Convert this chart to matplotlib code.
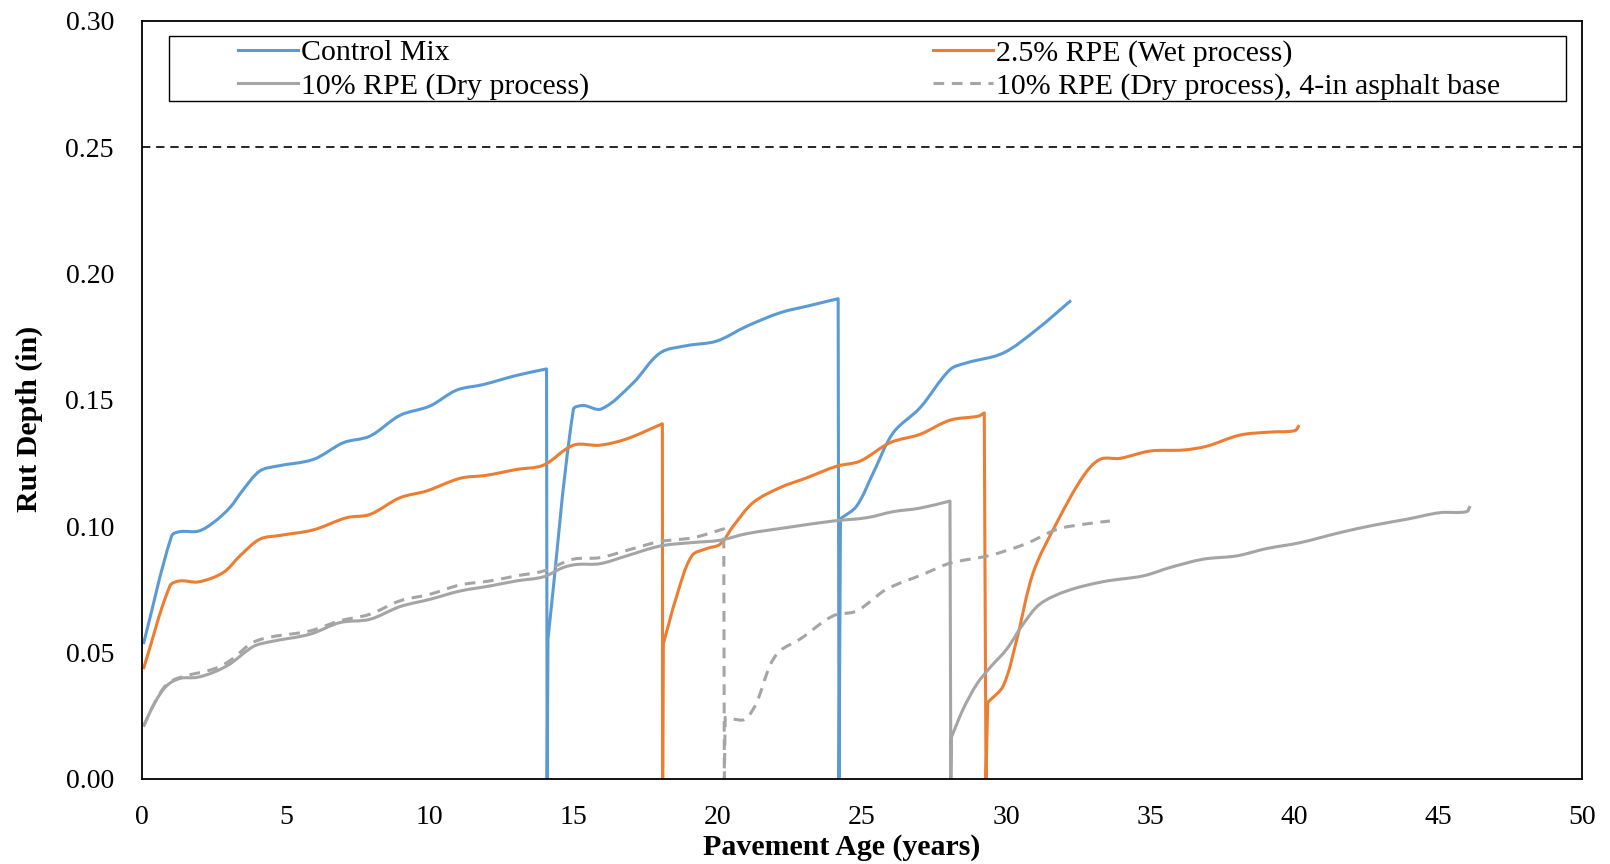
import math
import matplotlib
matplotlib.use("Agg")
import matplotlib.pyplot as plt
from matplotlib.patches import Rectangle, PathPatch
from matplotlib.path import Path
from matplotlib.lines import Line2D

plt.rcParams["font.family"] = ["Liberation Serif", "DejaVu Serif"]

# Rut depth (in) vs pavement age (years); drops to zero mark rehabilitation
control_age = [0.06, 1.04, 1.33, 1.97, 2.49, 3.06, 3.53, 4.1, 4.68, 5.96, 7.0, 7.92, 8.96,
               10.0, 10.93, 11.85, 13.0, 14.05, 14.07, 14.1, 14.98, 15.32, 15.96, 17.06,
               17.99, 18.91, 19.95, 21.0, 22.15, 23.19, 24.17, 24.2, 24.25, 24.81, 25.39,
               26.08, 27.01, 28.05, 28.63, 29.9, 31.06, 32.25]
control_rut = [0.0534, 0.0962, 0.0979, 0.0981, 0.1015, 0.1074, 0.1146, 0.1219, 0.1238,
               0.1265, 0.1331, 0.1357, 0.1439, 0.1476, 0.1539, 0.1561, 0.1597, 0.1623, 0.0,
               0.0553, 0.1462, 0.1478, 0.1465, 0.1568, 0.1686, 0.1715, 0.1733, 0.1792,
               0.1845, 0.1874, 0.1901, 0.0, 0.1030, 0.1080, 0.1212, 0.1370, 0.1469, 0.1620,
               0.1647, 0.1686, 0.1779, 0.1894]

wet_age = [0.06, 0.98, 1.33, 1.97, 2.83, 3.41, 4.1, 4.8, 5.96, 7.11, 7.92, 8.96, 9.89, 11.05,
           11.97, 13.01, 13.94, 14.98, 15.9, 16.83, 18.07, 18.08, 18.1, 18.57, 19.09, 19.61,
           20.07, 20.53, 21.22, 22.15, 23.08, 24.12, 24.93, 25.97, 27.01, 28.05, 29.03, 29.24,
           29.3, 29.36, 29.9, 30.37, 30.94, 31.76, 32.68, 33.26, 33.95, 35.0, 36.15, 36.96,
           38.11, 39.15, 40.02, 40.17]
wet_rut = [0.0435, 0.0764, 0.0784, 0.0780, 0.0817, 0.0883, 0.0949, 0.0964, 0.0986, 0.1034,
           0.1047, 0.1113, 0.1140, 0.1190, 0.1202, 0.1225, 0.1242, 0.1321, 0.1321, 0.1346,
           0.1406, 0.0, 0.0534, 0.0725, 0.0883, 0.0912, 0.0929, 0.1001, 0.1094, 0.1153,
           0.1192, 0.1238, 0.1258, 0.1331, 0.1364, 0.1420, 0.1436, 0.1449, 0.0, 0.0303,
           0.0369, 0.0553, 0.0817, 0.1015, 0.1199, 0.1265, 0.1269, 0.1298, 0.1302, 0.1317,
           0.1361, 0.1373, 0.1379, 0.1400]

dry_age = [0.06, 0.46, 0.87, 1.33, 1.91, 2.49, 3.06, 3.87, 4.45, 5.84, 6.88, 7.92, 8.96, 10.0,
           11.05, 12.09, 13.01, 13.94, 14.63, 15.1, 15.9, 16.83, 17.99, 19.03, 20.07, 21.0,
           22.38, 24.0, 25.16, 26.08, 27.01, 28.05, 28.08, 28.1, 28.51, 28.98, 29.44, 30.02,
           30.59, 31.17, 32.1, 33.37, 34.76, 35.69, 36.84, 38.0, 39.04, 40.19, 41.58, 42.74,
           43.9, 45.05, 45.98, 46.1]
dry_rut = [0.0208, 0.0303, 0.0369, 0.0398, 0.0402, 0.0422, 0.0455, 0.0524, 0.0543, 0.0573,
           0.0619, 0.0632, 0.0682, 0.0711, 0.0744, 0.0764, 0.0784, 0.0800, 0.0837, 0.0849,
           0.0852, 0.0883, 0.0922, 0.0935, 0.0945, 0.0971, 0.0995, 0.1021, 0.1034, 0.1058,
           0.1072, 0.1100, 0.0, 0.0165, 0.0277, 0.0375, 0.0441, 0.0514, 0.0613, 0.0692,
           0.0744, 0.0781, 0.0804, 0.0837, 0.0870, 0.0883, 0.0912, 0.0935, 0.0975, 0.1004,
           0.1028, 0.1054, 0.1058, 0.1080]

base_age = [0.06, 0.46, 0.87, 1.33, 2.49, 3.06, 3.99, 5.84, 6.88, 7.92, 8.96, 10.0, 11.05,
            12.09, 13.01, 13.94, 14.98, 15.9, 17.06, 17.99, 19.14, 20.2, 20.22, 20.25, 20.53,
            20.94, 21.34, 21.8, 22.15, 22.84, 24.0, 24.81, 25.85, 27.12, 28.05, 29.44, 30.71,
            31.76, 32.68, 33.6]
base_rut = [0.0208, 0.0303, 0.0375, 0.0402, 0.0435, 0.0468, 0.0547, 0.0586, 0.0626, 0.0652,
            0.0705, 0.0731, 0.0768, 0.0784, 0.0804, 0.0823, 0.0870, 0.0876, 0.0912, 0.0940,
            0.0955, 0.0990, 0.0, 0.0244, 0.0237, 0.0237, 0.0303, 0.0448, 0.0507, 0.0553,
            0.0646, 0.0665, 0.0751, 0.0810, 0.0854, 0.0885, 0.0932, 0.0988, 0.1008, 0.1021]

rut_limit = 0.25
x_ticks = [0, 5, 10, 15, 20, 25, 30, 35, 40, 45, 50]
y_ticks = [0.00, 0.05, 0.10, 0.15, 0.20, 0.25, 0.30]

series_labels = ["Control Mix", "2.5% RPE (Wet process)", "10% RPE (Dry process)",
                 "10% RPE (Dry process), 4-in asphalt base"]

BLUE, ORANGE, GRAY = "#5B9BD5", "#ED7D31", "#A5A5A5"
LW = 2.2
BASE_DASH = (3.5, 2.5)


def smoothed_path(ax, xs, ys):
    """Smoothed-line path through every point. Tangents are taken in screen
    space and scaled by the chord length, so uneven spacing doesn't overshoot.
    Segments touching a zero reading (rehabilitation reset) stay straight."""
    tr = ax.transData
    inv = tr.inverted()
    scr = [tuple(tr.transform((x, y))) for x, y in zip(xs, ys)]
    zero = [y == 0 for y in ys]
    n = len(scr)

    def tangent(i):
        a = i - 1 if i > 0 and not zero[i - 1] else i
        b = i + 1 if i + 1 < n and not zero[i + 1] else i
        dx, dy = scr[b][0] - scr[a][0], scr[b][1] - scr[a][1]
        norm = math.hypot(dx, dy)
        return (dx / norm, dy / norm) if norm > 0 else (0.0, 0.0)

    verts = [(xs[0], ys[0])]
    codes = [Path.MOVETO]
    for i in range(n - 1):
        if zero[i] or zero[i + 1]:
            verts.append((xs[i + 1], ys[i + 1]))
            codes.append(Path.LINETO)
            continue
        p0, p1 = scr[i], scr[i + 1]
        d = math.hypot(p1[0] - p0[0], p1[1] - p0[1]) / 3.0
        t0, t1 = tangent(i), tangent(i + 1)
        c1 = (p0[0] + t0[0] * d, p0[1] + t0[1] * d)
        c2 = (p1[0] - t1[0] * d, p1[1] - t1[1] * d)
        verts += [tuple(inv.transform(c1)), tuple(inv.transform(c2)), (xs[i + 1], ys[i + 1])]
        codes += [Path.CURVE4] * 3
    return Path(verts, codes)


fig = plt.figure(figsize=(16.1, 8.64), dpi=100)
ax = fig.add_axes([0.0880, 0.0984, 0.8949, 0.8773])
ax.set_xlim(0, 50)
ax.set_ylim(0, 0.30)

series = [
    (control_age, control_rut, BLUE, "solid"),
    (wet_age, wet_rut, ORANGE, "solid"),
    (dry_age, dry_rut, GRAY, "solid"),
    (base_age, base_rut, GRAY, (0, BASE_DASH)),
]
for xs, ys, col, ls in series:
    ax.add_patch(PathPatch(smoothed_path(ax, xs, ys), fill=False, edgecolor=col, lw=LW,
                           linestyle=ls, joinstyle="round", capstyle="butt",
                           transform=ax.transData))

ax.axhline(rut_limit, color="black", lw=1.2, dashes=(5, 3.5))

ax.set_xticks(x_ticks)
ax.set_yticks(y_ticks)
ax.set_xticklabels([str(t) for t in x_ticks])
ax.set_yticklabels([f"{t:.2f}" for t in y_ticks])
ax.tick_params(axis="both", length=0, labelsize=20)
ax.tick_params(axis="y", pad=20)
ax.tick_params(axis="x", pad=19)
for s in ax.spines.values():
    s.set_linewidth(1.3)
    s.set_color("black")

ax.set_xlabel("Pavement Age (years)", fontsize=21.5, fontweight="bold")
ax.set_ylabel("Rut Depth (in)", fontsize=21.5, fontweight="bold")
ax.xaxis.label.set_va("center")
ax.yaxis.label.set_va("center")
ax.xaxis.set_label_coords(0.4858, -0.091)
ax.yaxis.set_label_coords(-0.0779, 0.4756)

# Legend box, with entries spread across two columns inside it
fig.add_artist(Rectangle((0.1052, 0.8836), 0.8674, 0.0748, transform=fig.transFigure,
                         facecolor="white", edgecolor="black", lw=1.0, zorder=3))
handles = [
    Line2D([], [], color=BLUE, lw=LW),
    Line2D([], [], color=GRAY, lw=LW),
    Line2D([], [], color=ORANGE, lw=LW),
    Line2D([], [], color=GRAY, lw=LW, dashes=BASE_DASH),
]
leg = fig.legend(handles,
                 [series_labels[0], series_labels[2], series_labels[1], series_labels[3]],
                 ncol=2, mode="expand", loc="center",
                 bbox_to_anchor=(0.1478, 0.9192, 0.7839, 0.0),
                 frameon=False, fontsize=21.5, borderpad=0, borderaxespad=0,
                 handlelength=2.0, handletextpad=0.1, labelspacing=0.2,
                 columnspacing=1.0)
leg.set_zorder(4)

fig.savefig("out.png", dpi=100)
